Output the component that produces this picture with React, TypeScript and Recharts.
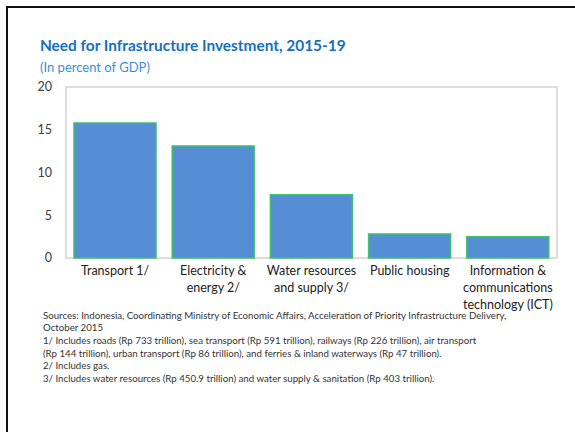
import React from 'react';
import { BarChart, Bar, XAxis, YAxis, ReferenceArea } from 'recharts';

const categories = [
  'Transport',
  'Electricity & energy',
  'Water resources and supply',
  'Public housing',
  'ICT',
];
const investment = [15.8, 13.1, 7.4, 2.8, 2.5];
const tickLines = [
  ['Transport 1/'],
  ['Electricity &', 'energy 2/'],
  ['Water resources', 'and supply  3/'],
  ['Public housing'],
  ['Information &', 'communications', 'technology (ICT)'],
];
const yTicks = [0, 5, 10, 15, 20];
const footnotes = [
  'Sources: Indonesia, Coordinating Ministry of Economic Affairs, Acceleration of Priority Infrastructure Delivery,',
  'October 2015',
  '1/ Includes roads (Rp 733 trillion), sea transport (Rp 591 trillion), railways (Rp 226 trillion), air transport',
  '(Rp 144 trillion), urban transport (Rp 86 trillion), and ferries & inland waterways (Rp 47 trillion).',
  '2/ Includes gas.',
  '3/ Includes water resources (Rp 450.9 trillion) and water supply & sanitation (Rp 403 trillion).',
];

const data = categories.map((name, i) => ({ name, value: investment[i] }));

const FONT = 'Lato, "Liberation Sans", sans-serif';

function CategoryTick(props: any) {
  const { x, y, index } = props;
  const lines = tickLines[index] || [];
  return (
    <text x={x} y={y} textAnchor="middle" fill="#222" fontSize={12.5} fontFamily={FONT}>
      {lines.map((l, i) => (
        <tspan key={i} x={x} dy={i === 0 ? '0.71em' : 17}>
          {l}
        </tspan>
      ))}
    </text>
  );
}

export default function App() {
  return (
    <div style={{ position: 'absolute', left: 0, top: 0, width: 575, height: 432, overflow: 'hidden', background: '#fff', fontFamily: FONT }}>
      <div
        style={{
          position: 'absolute',
          left: 6,
          top: 6,
          width: 700,
          height: 600,
          borderLeft: '2px solid #111',
          borderTop: '2px solid #111',
        }}
      />
      <div style={{ position: 'absolute', left: 40, top: 35, fontSize: 15.4, fontWeight: 700, color: '#1670c0', lineHeight: '20px', whiteSpace: 'nowrap' }}>
        Need for Infrastructure Investment, 2015-19
      </div>
      <div style={{ position: 'absolute', left: 40, top: 58, fontSize: 13, color: '#3a8fd8', lineHeight: '18px', whiteSpace: 'nowrap' }}>
        (In percent of GDP)
      </div>
      <div style={{ position: 'absolute', left: 0, top: 0 }}>
        <BarChart
          width={575}
          height={432}
          data={data}
          margin={{ top: 87, right: 18, bottom: 114, left: 40 }}
          barCategoryGap={8}
        >
          <ReferenceArea y1={0} y2={20} fill="none" stroke="#d4d4d4" strokeWidth={1.5} ifOverflow="visible" />
          <XAxis
            dataKey="name"
            tickLine={false}
            axisLine={false}
            interval={0}
            height={60}
            tick={<CategoryTick />}
          />
          <YAxis
            width={26}
            domain={[0, 20]}
            ticks={yTicks}
            tickLine={false}
            axisLine={false}
            tickMargin={8}
            tick={{ fill: '#404040', fontSize: 12.5, fontFamily: FONT }}
          />
          <Bar dataKey="value" fill="#558ed5" stroke="#3fbf6f" strokeWidth={1.5} isAnimationActive={false} />
        </BarChart>
      </div>
      <div style={{ position: 'absolute', left: 43, top: 308.5, fontSize: 9.7, color: '#333', lineHeight: '12.7px', whiteSpace: 'nowrap' }}>
        {footnotes.map((f, i) => (
          <div key={i}>{f}</div>
        ))}
      </div>
    </div>
  );
}
